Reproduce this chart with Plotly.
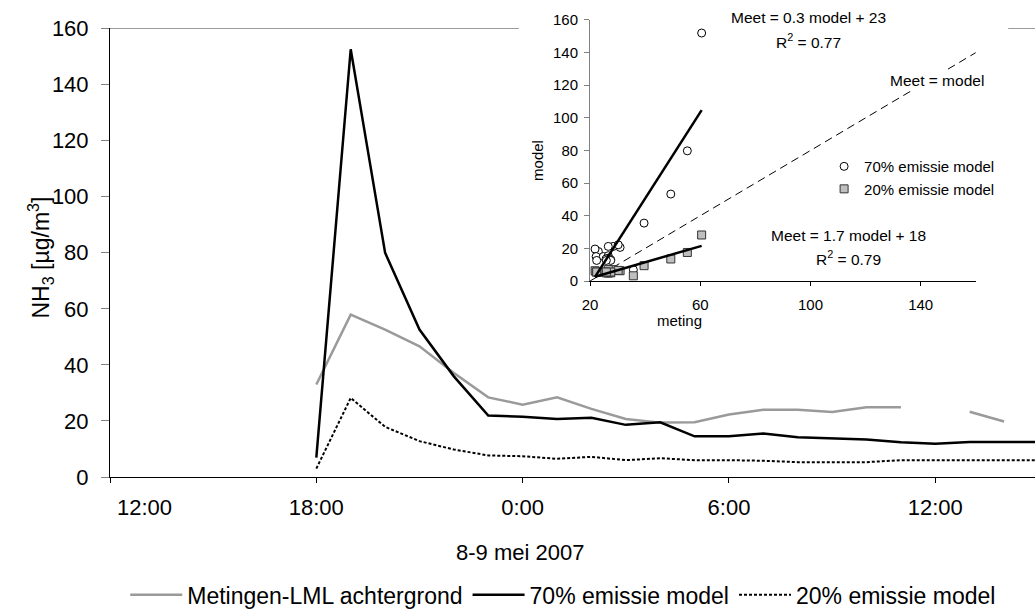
import plotly.graph_objects as go

# ---------------- data ----------------
# main chart: hours after 12:00 on 8 May 2007
hours = [6, 7, 8, 9, 10, 11, 12, 13, 14, 15, 16, 17, 18, 19, 20, 21, 22, 23, 24, 25, 26, 27]
metingen_lml = [33.0, 57.9, 52.6, 46.6, 37.1, 28.4, 25.8, 28.4, 24.3, 20.7, 19.4, 19.5,
                22.3, 24.0, 24.0, 23.2, 24.9, 24.9, None, 23.3, 19.8, None]
model_70 = [6.9, 152.6, 80.0, 52.6, 35.9, 21.9, 21.5, 20.7, 21.1, 18.6, 19.5, 14.5,
            14.5, 15.5, 14.2, 13.7, 13.4, 12.4, 11.9, 12.5, 12.5, 12.5]
model_20 = [3.0, 28.2, 17.9, 12.8, 9.8, 7.7, 7.4, 6.5, 7.2, 6.0, 6.7, 6.0,
            6.0, 5.8, 5.3, 5.3, 5.3, 6.0, 6.0, 6.0, 6.0, 6.0]

x_tick_vals = [0, 6, 12, 18, 24]
x_tick_labels = ["12:00", "18:00", "0:00", "6:00", "12:00"]
y_tick_vals = [0, 20, 40, 60, 80, 100, 120, 140, 160]

series_names = ["Metingen-LML achtergrond", "70% emissie model", "20% emissie model"]

# inset scatter: meting vs model
inset_meting = [35.7, 60.5, 55.3, 49.3, 39.6, 30.9, 28.4, 30.2, 26.6, 23.0, 21.8, 22.2,
                24.8, 26.6, 26.6, 25.8, 27.5, 27.5, 25.9, 22.4]
inset_model_70 = [6.9, 152.0, 79.8, 53.3, 35.5, 20.6, 21.2, 22.2, 21.2, 18.1, 19.6, 15.0,
                  15.0, 15.5, 14.0, 13.5, 13.0, 12.6, 12.6, 12.6]
inset_model_20 = [3.2, 28.2, 17.5, 13.5, 9.4, 6.3, 7.0, 6.5, 7.0, 5.5, 6.3, 5.5,
                  5.5, 5.0, 5.0, 5.0, 5.0, 5.5, 5.5, 5.5]
fit_70 = (2.64, -55.0)   # slope, intercept of drawn trend line
fit_20 = (0.49, -8.1)
identity_meting = [20, 160]
identity_model = [0, 140]
inset_x_ticks = [20, 60, 100, 140]
inset_y_ticks = [0, 20, 40, 60, 80, 100, 120, 140, 160]

# ---------------- figure ----------------
FONT = "Liberation Sans, Arial, sans-serif"
fig = go.Figure()

fig.add_trace(go.Scatter(x=hours, y=metingen_lml, mode="lines", name=series_names[0],
                         line=dict(color="#9a9a9a", width=2.5), connectgaps=False,
                         xaxis="x", yaxis="y"))
fig.add_trace(go.Scatter(x=hours, y=model_70, mode="lines", name=series_names[1],
                         line=dict(color="black", width=2.5), xaxis="x", yaxis="y"))
fig.add_trace(go.Scatter(x=hours, y=model_20, mode="lines", name=series_names[2],
                         line=dict(color="black", width=2, dash="3px,2px"),
                         xaxis="x", yaxis="y"))

# inset
xfit = [min(inset_meting), max(inset_meting)]
fig.add_trace(go.Scatter(x=identity_meting, y=identity_model, mode="lines",
                         line=dict(color="black", width=1, dash="8px,5px"),
                         showlegend=False, xaxis="x2", yaxis="y2", hoverinfo="skip"))
fig.add_trace(go.Scatter(x=inset_meting, y=inset_model_70, mode="markers",
                         name=series_names[1], legend="legend2",
                         marker=dict(symbol="circle", size=8, color="white",
                                     line=dict(color="black", width=1)),
                         xaxis="x2", yaxis="y2"))
fig.add_trace(go.Scatter(x=inset_meting, y=inset_model_20, mode="markers",
                         name=series_names[2], legend="legend2",
                         marker=dict(symbol="square", size=8, color="#bfbfbf",
                                     line=dict(color="#333333", width=1)),
                         xaxis="x2", yaxis="y2"))
fig.add_trace(go.Scatter(x=xfit, y=[fit_70[0] * v + fit_70[1] for v in xfit], mode="lines",
                         line=dict(color="black", width=2.5), showlegend=False,
                         xaxis="x2", yaxis="y2"))
fig.add_trace(go.Scatter(x=xfit, y=[fit_20[0] * v + fit_20[1] for v in xfit], mode="lines",
                         line=dict(color="black", width=2.5), showlegend=False,
                         xaxis="x2", yaxis="y2"))

main_top = 0.9604
fig.update_layout(
    width=1035, height=612,
    margin=dict(l=110, r=0, t=10, b=134.5),
    paper_bgcolor="white", plot_bgcolor="rgba(0,0,0,0)",
    font=dict(family=FONT, size=22, color="black"),
    showlegend=True,
    xaxis=dict(domain=[0, 1], range=[0, 26.9], tickvals=x_tick_vals,
               ticktext=[""] + x_tick_labels[1:], showgrid=False, zeroline=False,
               showline=True, linecolor="black", linewidth=1,
               ticks="outside", ticklen=5, tickcolor="black",
               ticklabelstandoff=6, automargin=False, anchor="y"),
    yaxis=dict(domain=[0, main_top], range=[0, 160], tickvals=y_tick_vals,
               showgrid=False, zeroline=False, showline=True, linecolor="black",
               linewidth=1, ticks="outside", ticklen=8, tickcolor="#808080",
               ticklabelstandoff=8, automargin=False, anchor="x"),
    xaxis2=dict(domain=[0.519, 0.936], range=[20, 160], tickvals=inset_x_ticks,
                showgrid=False, zeroline=False, showline=True, linecolor="black",
                linewidth=1, ticks="outside", ticklen=4, tickcolor="black",
                tickfont=dict(size=15), ticklabelstandoff=6, automargin=False,
                anchor="y2"),
    yaxis2=dict(domain=[0.4197, 0.9786], range=[0, 160], tickvals=inset_y_ticks,
                showgrid=False, zeroline=False, showline=True, linecolor="#808080",
                linewidth=1, ticks="outside", ticklen=5, tickcolor="#808080",
                tickfont=dict(size=15), ticklabelstandoff=3, automargin=False,
                anchor="x2"),
    legend=dict(orientation="h", x=0.49, xanchor="center", yref="container",
                y=0.028, yanchor="middle", font=dict(size=23), itemwidth=52,
                bgcolor="rgba(0,0,0,0)", traceorder="normal"),
    legend2=dict(orientation="v", x=0.772, xanchor="left", y=0.70, yanchor="top",
                 font=dict(size=15), bgcolor="rgba(0,0,0,0)", itemwidth=30),
)

# grey plot-area top border (interrupted by the inset)
for x0, x1 in [(0, 0.442), (0.971, 1)]:
    fig.add_shape(type="line", xref="paper", yref="paper", x0=x0, x1=x1,
                  y0=main_top, y1=main_top, line=dict(color="#9a9a9a", width=1))

ann = [
    dict(text=x_tick_labels[0], x=x_tick_vals[0] + 1, xref="x", y=-0.066, yref="paper",
         font=dict(size=22)),
    dict(text="8-9 mei 2007", x=0.443, xref="paper", y=-0.161, yref="paper",
         font=dict(size=22)),
    dict(text="NH<sub>3</sub> [µg/m<sup>3</sup>]", x=-0.0757, xref="paper", y=0.47,
         yref="paper", textangle=-90, font=dict(size=23)),
    dict(text="model", x=0.4627, xref="paper", y=0.679, yref="paper", textangle=-90,
         font=dict(size=15)),
    dict(text="meting", x=0.616, xref="paper", y=0.335, yref="paper", font=dict(size=15)),
    dict(text="Meet = 0.3 model + 23", x=0.7546, xref="paper", y=0.983, yref="paper",
         font=dict(size=15.5)),
    dict(text="R<sup>2</sup> = 0.77", x=0.7546, xref="paper", y=0.9337, yref="paper",
         font=dict(size=15.5)),
    dict(text="Meet = model", x=0.894, xref="paper", y=0.850, yref="paper",
         font=dict(size=15.5), bgcolor="white"),
    dict(text="Meet = 1.7 model + 18", x=0.798, xref="paper", y=0.5166, yref="paper",
         font=dict(size=15.5)),
    dict(text="R<sup>2</sup> = 0.79", x=0.798, xref="paper", y=0.4695, yref="paper",
         font=dict(size=15.5)),
]
for a in ann:
    a.setdefault("showarrow", False)
    a.setdefault("xanchor", "center")
    a.setdefault("yanchor", "middle")
    fig.add_annotation(**a)

fig.write_html("out.html", config={"displayModeBar": False},
               post_script="document.body.style.margin='0';")
